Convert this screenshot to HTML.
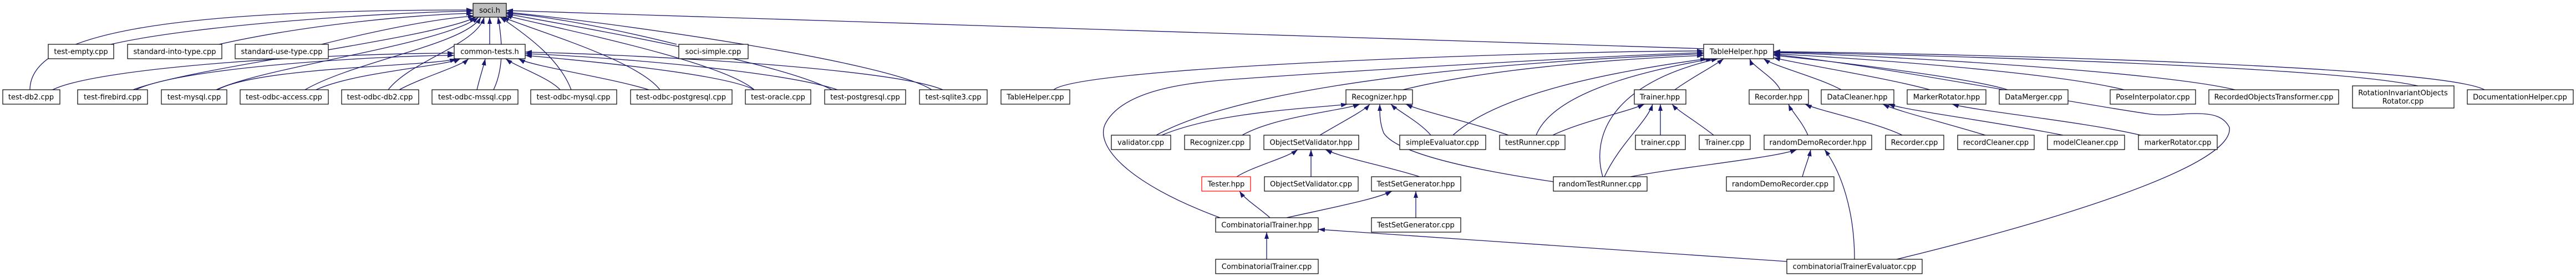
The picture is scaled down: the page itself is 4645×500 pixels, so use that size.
<!DOCTYPE html>
<html><head><meta charset="utf-8"><style>
html,body{margin:0;padding:0;background:#fff}
svg{display:block}
text{font-family:"DejaVu Sans","Liberation Sans",sans-serif;font-size:13px;fill:#000}
.e{fill:none;stroke:#191970;stroke-width:1.3}
.b{fill:#fff;stroke:#000;stroke-width:1.2}
</style></head><body>
<svg width="4645" height="500" xmlns="http://www.w3.org/2000/svg">
<defs><marker id="a" viewBox="0 0 12 8" refX="12" refY="4" markerWidth="12" markerHeight="8" markerUnits="userSpaceOnUse" orient="auto"><path d="M0,0 L12,4 L0,8 z" fill="#191970"/></marker></defs>
<g class="e" marker-end="url(#a)">
<!-- soci.h -->
<path d="M200 80 C350 45 700 22 853 20"/>
<path d="M395 80 C550 45 750 26 853 24"/>
<path d="M580 80 C700 50 800 32 856 29"/>
<path d="M883 80 L883 31"/>
<path d="M1220 80 C1100 50 980 28 913 24"/>
<path d="M3075 88 L913 19"/>
<path d="M54 162 C54 60 300 18 853 18"/>
<path d="M240 162 C350 120 780 70 858 31"/>
<path d="M390 162 C480 120 800 80 863 31"/>
<path d="M550 162 C640 110 840 80 867 31"/>
<path d="M700 162 C740 110 860 80 873 31"/>
<path d="M890 162 C910 120 905 70 898 31"/>
<path d="M1030 162 C1010 110 960 70 902 31"/>
<path d="M1190 162 C1150 110 980 60 906 31"/>
<path d="M1360 162 C1300 110 1000 50 911 28"/>
<path d="M1500 162 C1400 110 1050 50 913 25"/>
<path d="M1680 162 C1600 110 1100 40 913 22"/>
<!-- common-tests.h -->
<path d="M95 162 C180 120 600 96 819 96"/>
<path d="M245 162 C330 120 700 100 819 100"/>
<path d="M392 162 C470 120 780 120 823 106"/>
<path d="M570 162 C640 130 800 120 830 106"/>
<path d="M720 162 C760 140 830 120 845 106"/>
<path d="M860 162 C865 140 872 120 875 106"/>
<path d="M1010 162 C990 140 930 120 912 106"/>
<path d="M1170 162 C1100 140 960 120 935 106"/>
<path d="M1360 162 C1300 130 1000 105 947 100"/>
<path d="M1510 162 C1400 125 1050 100 947 97"/>
<path d="M1700 162 C1600 120 1100 97 947 94"/>
<!-- TableHelper.hpp -->
<path d="M1900 162 C1950 120 2800 92 3072 92"/>
<path d="M2200 393 C2030 330 1970 260 1995 220 C2030 160 2150 150 2200 145 C2400 130 2900 100 3072 95"/>
<path d="M2085 244 C2200 180 2500 120 3072 97"/>
<path d="M2530 162 C2700 120 2950 105 3072 100"/>
<path d="M2620 244 C2700 170 2900 130 3078 106"/>
<path d="M2770 244 C2800 170 2950 130 3088 106"/>
<path d="M2890 319 C2870 250 2900 150 3098 106"/>
<path d="M3020 162 C3050 140 3090 120 3108 106"/>
<path d="M3210 162 C3200 140 3160 120 3155 106"/>
<path d="M3320 162 C3280 140 3200 120 3180 106"/>
<path d="M3480 162 C3400 140 3240 115 3198 104"/>
<path d="M3620 162 C3550 140 3300 110 3198 100"/>
<path d="M3830 162 C3700 130 3350 105 3198 97"/>
<path d="M4030 162 C3900 130 3400 100 3198 95"/>
<path d="M4360 155 C4200 120 3500 100 3198 94"/>
<path d="M4480 162 C4400 120 3600 98 3198 93"/>
<path d="M3420 468 C3700 400 4030 300 4020 230 C4010 210 3990 205 3960 205 C3930 205 3900 210 3870 205 C3700 180 3400 120 3198 98"/>
<!-- Recognizer.hpp -->
<path d="M2095 244 C2200 200 2380 195 2430 188"/>
<path d="M2240 244 C2300 210 2420 200 2452 188"/>
<path d="M2380 244 C2420 220 2460 200 2470 188"/>
<path d="M2801 328 C2680 310 2520 280 2495 240 C2487 220 2488 200 2488 188"/>
<path d="M2580 244 C2560 220 2520 200 2508 188"/>
<path d="M2720 244 C2650 220 2560 200 2535 188"/>
<!-- Trainer.hpp -->
<path d="M2800 244 C2850 220 2940 200 2965 188"/>
<path d="M2893 319 C2920 260 2970 220 2980 188"/>
<path d="M2994 244 L2994 188"/>
<path d="M3090 244 C3060 220 3025 200 3015 188"/>
<!-- Recorder / DataCleaner / MarkerRotator -->
<path d="M3260 244 C3250 220 3230 200 3225 188"/>
<path d="M3430 244 C3380 220 3280 200 3255 188"/>
<path d="M3580 244 C3500 220 3420 200 3395 188"/>
<path d="M3720 244 C3600 220 3440 200 3405 188"/>
<path d="M3860 244 C3760 220 3560 200 3520 188"/>
<!-- ObjectSetValidator.hpp -->
<path d="M2230 319 C2260 300 2320 285 2340 270"/>
<path d="M2364 319 L2364 270"/>
<path d="M2560 319 C2500 300 2420 285 2390 270"/>
<!-- randomDemoRecorder.hpp -->
<path d="M2940 319 C3040 300 3200 285 3240 270"/>
<path d="M3250 319 C3255 300 3262 285 3265 270"/>
<path d="M3344 468 C3344 380 3320 310 3290 270"/>
<!-- Tester / TSG / CT -->
<path d="M2290 393 C2270 375 2245 360 2235 345"/>
<path d="M2320 393 C2400 375 2480 360 2510 345"/>
<path d="M2553 393 L2553 345"/>
<path d="M2284 468 L2284 419"/>
<path d="M3222 472 L2377 414"/>
</g>
<g>
<rect x="853" y="6" width="60" height="25" fill="#bfbfbf" stroke="#000" stroke-width="1.2"/><text x="883" y="23" text-anchor="middle">soci.h</text>
</g>
<g>
<rect class="b" x="87" y="80" width="118" height="26"/><text x="146" y="97.5" text-anchor="middle">test-empty.cpp</text>
<rect class="b" x="230" y="80" width="170" height="26"/><text x="315" y="97.5" text-anchor="middle">standard-into-type.cpp</text>
<rect class="b" x="424" y="80" width="168" height="26"/><text x="508" y="97.5" text-anchor="middle">standard-use-type.cpp</text>
<rect class="b" x="819" y="80" width="128" height="26"/><text x="883" y="97.5" text-anchor="middle">common-tests.h</text>
<rect class="b" x="1224" y="80" width="125" height="26"/><text x="1286" y="97.5" text-anchor="middle">soci-simple.cpp</text>
<rect class="b" x="3072" y="80" width="126" height="26"/><text x="3135" y="97.5" text-anchor="middle">TableHelper.hpp</text>

<rect class="b" x="5" y="162" width="103" height="26"/><text x="56" y="179.5" text-anchor="middle">test-db2.cpp</text>
<rect class="b" x="140" y="162" width="126" height="26"/><text x="203" y="179.5" text-anchor="middle">test-firebird.cpp</text>
<rect class="b" x="291" y="162" width="118" height="26"/><text x="350" y="179.5" text-anchor="middle">test-mysql.cpp</text>
<rect class="b" x="433" y="162" width="159" height="26"/><text x="512" y="179.5" text-anchor="middle">test-odbc-access.cpp</text>
<rect class="b" x="616" y="162" width="139" height="26"/><text x="685" y="179.5" text-anchor="middle">test-odbc-db2.cpp</text>
<rect class="b" x="779" y="162" width="155" height="26"/><text x="856" y="179.5" text-anchor="middle">test-odbc-mssql.cpp</text>
<rect class="b" x="957" y="162" width="155" height="26"/><text x="1034" y="179.5" text-anchor="middle">test-odbc-mysql.cpp</text>
<rect class="b" x="1137" y="162" width="183" height="26"/><text x="1228" y="179.5" text-anchor="middle">test-odbc-postgresql.cpp</text>
<rect class="b" x="1344" y="162" width="118" height="26"/><text x="1403" y="179.5" text-anchor="middle">test-oracle.cpp</text>
<rect class="b" x="1487" y="162" width="146" height="26"/><text x="1560" y="179.5" text-anchor="middle">test-postgresql.cpp</text>
<rect class="b" x="1658" y="162" width="122" height="26"/><text x="1719" y="179.5" text-anchor="middle">test-sqlite3.cpp</text>
<rect class="b" x="1805" y="162" width="124" height="26"/><text x="1867" y="179.5" text-anchor="middle">TableHelper.cpp</text>
<rect class="b" x="2427" y="162" width="120" height="26"/><text x="2487" y="179.5" text-anchor="middle">Recognizer.hpp</text>
<rect class="b" x="2947" y="162" width="93" height="26"/><text x="2993" y="179.5" text-anchor="middle">Trainer.hpp</text>
<rect class="b" x="3154" y="162" width="107" height="26"/><text x="3207" y="179.5" text-anchor="middle">Recorder.hpp</text>
<rect class="b" x="3284" y="162" width="131" height="26"/><text x="3349" y="179.5" text-anchor="middle">DataCleaner.hpp</text>
<rect class="b" x="3439" y="162" width="142" height="26"/><text x="3510" y="179.5" text-anchor="middle">MarkerRotator.hpp</text>
<rect class="b" x="3605" y="162" width="124" height="26"/><text x="3667" y="179.5" text-anchor="middle">DataMerger.cpp</text>
<rect class="b" x="3805" y="162" width="154" height="26"/><text x="3882" y="179.5" text-anchor="middle">PoseInterpolator.cpp</text>
<rect class="b" x="3983" y="162" width="234" height="26"/><text x="4100" y="179.5" text-anchor="middle">RecordedObjectsTransformer.cpp</text>
<rect class="b" x="4242" y="155" width="183" height="40"/><text x="4333" y="172" text-anchor="middle">RotationInvariantObjects</text><text x="4333" y="187" text-anchor="middle">Rotator.cpp</text>
<rect class="b" x="4449" y="162" width="191" height="26"/><text x="4544" y="179.5" text-anchor="middle">DocumentationHelper.cpp</text>

<rect class="b" x="2004" y="244" width="107" height="26"/><text x="2057" y="261.5" text-anchor="middle">validator.cpp</text>
<rect class="b" x="2136" y="244" width="118" height="26"/><text x="2195" y="261.5" text-anchor="middle">Recognizer.cpp</text>
<rect class="b" x="2279" y="244" width="171" height="26"/><text x="2364" y="261.5" text-anchor="middle">ObjectSetValidator.hpp</text>
<rect class="b" x="2524" y="244" width="155" height="26"/><text x="2601" y="261.5" text-anchor="middle">simpleEvaluator.cpp</text>
<rect class="b" x="2704" y="244" width="118" height="26"/><text x="2763" y="261.5" text-anchor="middle">testRunner.cpp</text>
<rect class="b" x="2949" y="244" width="90" height="26"/><text x="2994" y="261.5" text-anchor="middle">trainer.cpp</text>
<rect class="b" x="3064" y="244" width="92" height="26"/><text x="3110" y="261.5" text-anchor="middle">Trainer.cpp</text>
<rect class="b" x="3181" y="244" width="194" height="26"/><text x="3278" y="261.5" text-anchor="middle">randomDemoRecorder.hpp</text>
<rect class="b" x="3400" y="244" width="105" height="26"/><text x="3452" y="261.5" text-anchor="middle">Recorder.cpp</text>
<rect class="b" x="3530" y="244" width="138" height="26"/><text x="3599" y="261.5" text-anchor="middle">recordCleaner.cpp</text>
<rect class="b" x="3692" y="244" width="139" height="26"/><text x="3761" y="261.5" text-anchor="middle">modelCleaner.cpp</text>
<rect class="b" x="3856" y="244" width="142" height="26"/><text x="3927" y="261.5" text-anchor="middle">markerRotator.cpp</text>

<rect x="2167" y="319" width="88" height="26" fill="#fff" stroke="#f00" stroke-width="1.2"/><text x="2211" y="336.5" text-anchor="middle">Tester.hpp</text>
<rect class="b" x="2280" y="319" width="169" height="26"/><text x="2364" y="336.5" text-anchor="middle">ObjectSetValidator.cpp</text>
<rect class="b" x="2473" y="319" width="161" height="26"/><text x="2553" y="336.5" text-anchor="middle">TestSetGenerator.hpp</text>
<rect class="b" x="2801" y="319" width="169" height="26"/><text x="2885" y="336.5" text-anchor="middle">randomTestRunner.cpp</text>
<rect class="b" x="3113" y="319" width="194" height="26"/><text x="3210" y="336.5" text-anchor="middle">randomDemoRecorder.cpp</text>

<rect class="b" x="2192" y="393" width="185" height="26"/><text x="2284" y="410.5" text-anchor="middle">CombinatorialTrainer.hpp</text>
<rect class="b" x="2473" y="393" width="161" height="26"/><text x="2553" y="410.5" text-anchor="middle">TestSetGenerator.cpp</text>
<rect class="b" x="2192" y="468" width="185" height="26"/><text x="2284" y="485.5" text-anchor="middle">CombinatorialTrainer.cpp</text>
<rect class="b" x="3222" y="468" width="244" height="26"/><text x="3344" y="485.5" text-anchor="middle">combinatorialTrainerEvaluator.cpp</text>
</g>
</svg>
</body></html>
